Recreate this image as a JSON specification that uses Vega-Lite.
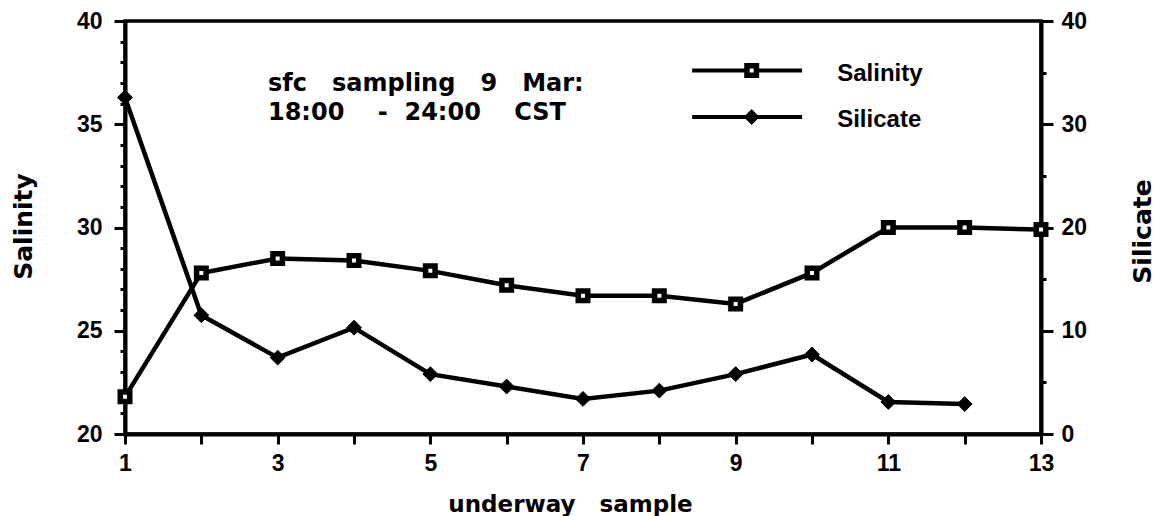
{
  "$schema": "https://vega.github.io/schema/vega-lite/v6.json",
  "width": 916,
  "height": 413,
  "autosize": "none",
  "padding": {"left": 125, "top": 21, "right": 116, "bottom": 82},
  "background": "white",
  "config": {
    "view": {"stroke": "black", "strokeWidth": 3.5},
    "axis": {
      "grid": false,
      "domainColor": "black",
      "domainWidth": 4,
      "tickColor": "black",
      "tickWidth": 3,
      "labelColor": "black",
      "labelFont": "Liberation Sans",
      "labelFontWeight": "bold",
      "labelFontSize": 23,
      "labelFlush": false,
      "labelOverlap": false,
      "titleColor": "black",
      "titleFont": "DejaVu Sans",
      "titleFontWeight": "bold",
      "titleFontSize": 24
    }
  },
  "datasets": {
    "samples": [
      {"sample": 1, "salinity": 21.8, "silicate": 32.6},
      {"sample": 2, "salinity": 27.8, "silicate": 11.5},
      {"sample": 3, "salinity": 28.5, "silicate": 7.4},
      {"sample": 4, "salinity": 28.4, "silicate": 10.3},
      {"sample": 5, "salinity": 27.9, "silicate": 5.8},
      {"sample": 6, "salinity": 27.2, "silicate": 4.6},
      {"sample": 7, "salinity": 26.7, "silicate": 3.4},
      {"sample": 8, "salinity": 26.7, "silicate": 4.2},
      {"sample": 9, "salinity": 26.3, "silicate": 5.8},
      {"sample": 10, "salinity": 27.8, "silicate": 7.7},
      {"sample": 11, "salinity": 30.0, "silicate": 3.1},
      {"sample": 12, "salinity": 30.0, "silicate": 2.9},
      {"sample": 13, "salinity": 29.9, "silicate": null}
    ],
    "legend": [
      {"series": "Salinity", "sample": 8.43, "sample2": 9.87, "mid": 9.21, "salinity": 37.6, "labelx": 10.33},
      {"series": "Silicate", "sample": 8.43, "sample2": 9.87, "mid": 9.21, "salinity": 35.35, "labelx": 10.33}
    ],
    "notes": [
      {"sample": 2.873, "salinity": 36.61, "text": "sfc\u00a0\u00a0\u00a0sampling\u00a0\u00a0\u00a09\u00a0\u00a0\u00a0Mar:"},
      {"sample": 2.873, "salinity": 35.21, "text": "18:00\u00a0\u00a0\u00a0\u00a0-\u00a0\u00a024:00\u00a0\u00a0\u00a0\u00a0CST"}
    ]
  },
  "layer": [
    {
      "encoding": {
        "y": {
          "field": "salinity", "type": "quantitative",
          "scale": {"domain": [20, 40], "nice": false, "zero": false},
          "axis": {
            "values": [20, 21, 22, 23, 24, 25, 26, 27, 28, 29, 30, 31, 32, 33, 34, 35, 36, 37, 38, 39, 40],
            "format": "d",
            "labelExpr": "datum.value % 5 == 0 ? datum.label : ''",
            "labelOverlap": false,
            "tickSize": {"condition": {"test": "datum.value % 5 == 0", "value": 11}, "value": 5},
            "labelPadding": 12,
            "title": "Salinity",
            "titleFontSize": 25,
            "titleAngle": 270,
            "titleX": -102,
            "titleY": 205,
            "titleAlign": "center",
            "titleBaseline": "middle"
          }
        }
      },
      "layer": [
        {
          "data": {"name": "samples"},
          "mark": {"type": "line", "color": "black", "strokeWidth": 4.5},
          "encoding": {
            "x": {
              "field": "sample", "type": "quantitative",
              "scale": {"domain": [1, 13], "nice": false, "zero": false},
              "axis": {
                "values": [1, 2, 3, 4, 5, 6, 7, 8, 9, 10, 11, 12, 13],
                "format": "d",
                "labelExpr": "datum.value % 2 == 1 ? datum.label : ''",
                "labelOverlap": false,
                "labelFlush": false,
                "tickSize": 10,
                "labelPadding": 8,
                "title": "underway\u00a0\u00a0\u00a0sample",
                "titleFontSize": 23,
                "titleX": 445,
                "titleY": 70,
                "titleAlign": "center",
                "titleBaseline": "middle"
              }
            }
          }
        },
        {
          "data": {"name": "samples"},
          "mark": {"type": "point", "shape": "square", "filled": false, "fill": "white", "stroke": "black", "strokeWidth": 5.5, "size": 90, "opacity": 1},
          "encoding": {
            "x": {"field": "sample", "type": "quantitative"}
          }
        },
        {
          "data": {"name": "legend"},
          "mark": {"type": "rule", "color": "black", "strokeWidth": 4},
          "encoding": {
            "x": {"field": "sample", "type": "quantitative"},
            "x2": {"field": "sample2"}
          }
        },
        {
          "data": {"name": "legend"},
          "transform": [{"filter": "datum.series == 'Salinity'"}],
          "mark": {"type": "point", "shape": "square", "filled": false, "fill": "white", "stroke": "black", "strokeWidth": 5.5, "size": 90, "opacity": 1},
          "encoding": {
            "x": {"field": "mid", "type": "quantitative"}
          }
        },
        {
          "data": {"name": "legend"},
          "transform": [{"filter": "datum.series == 'Silicate'"}],
          "mark": {"type": "point", "shape": "diamond", "filled": true, "fill": "black", "stroke": "black", "strokeWidth": 1, "size": 220, "opacity": 1},
          "encoding": {
            "x": {"field": "mid", "type": "quantitative"}
          }
        },
        {
          "data": {"name": "legend"},
          "mark": {"type": "text", "align": "left", "baseline": "middle", "dy": 3, "font": "Liberation Sans", "fontWeight": "bold", "fontSize": 24, "color": "black"},
          "encoding": {
            "x": {"field": "labelx", "type": "quantitative"},
            "text": {"field": "series"}
          }
        },
        {
          "data": {"name": "notes"},
          "mark": {"type": "text", "align": "left", "baseline": "alphabetic", "font": "DejaVu Sans", "fontWeight": "bold", "fontSize": 24, "color": "black"},
          "encoding": {
            "x": {"field": "sample", "type": "quantitative"},
            "text": {"field": "text"}
          }
        }
      ]
    },
    {
      "data": {"name": "samples"},
      "encoding": {
        "x": {"field": "sample", "type": "quantitative"},
        "y": {
          "field": "silicate", "type": "quantitative",
          "scale": {"domain": [0, 40], "nice": false},
          "axis": {
            "orient": "right",
            "values": [0, 5, 10, 15, 20, 25, 30, 35, 40],
            "format": "d",
            "labelExpr": "datum.value % 10 == 0 ? datum.label : ''",
            "labelOverlap": false,
            "tickSize": {"condition": {"test": "datum.value % 10 == 0", "value": 12}, "value": 5},
            "labelPadding": 8,
            "title": "Silicate",
            "titleFontSize": 25,
            "titleAngle": 270,
            "titleX": 101,
            "titleY": 210,
            "titleAlign": "center",
            "titleBaseline": "middle"
          }
        }
      },
      "layer": [
        {"mark": {"type": "line", "color": "black", "strokeWidth": 4.5}},
        {"mark": {"type": "point", "shape": "diamond", "filled": true, "fill": "black", "stroke": "black", "strokeWidth": 1, "size": 220, "opacity": 1}}
      ]
    }
  ],
  "resolve": {"scale": {"y": "independent"}}
}
